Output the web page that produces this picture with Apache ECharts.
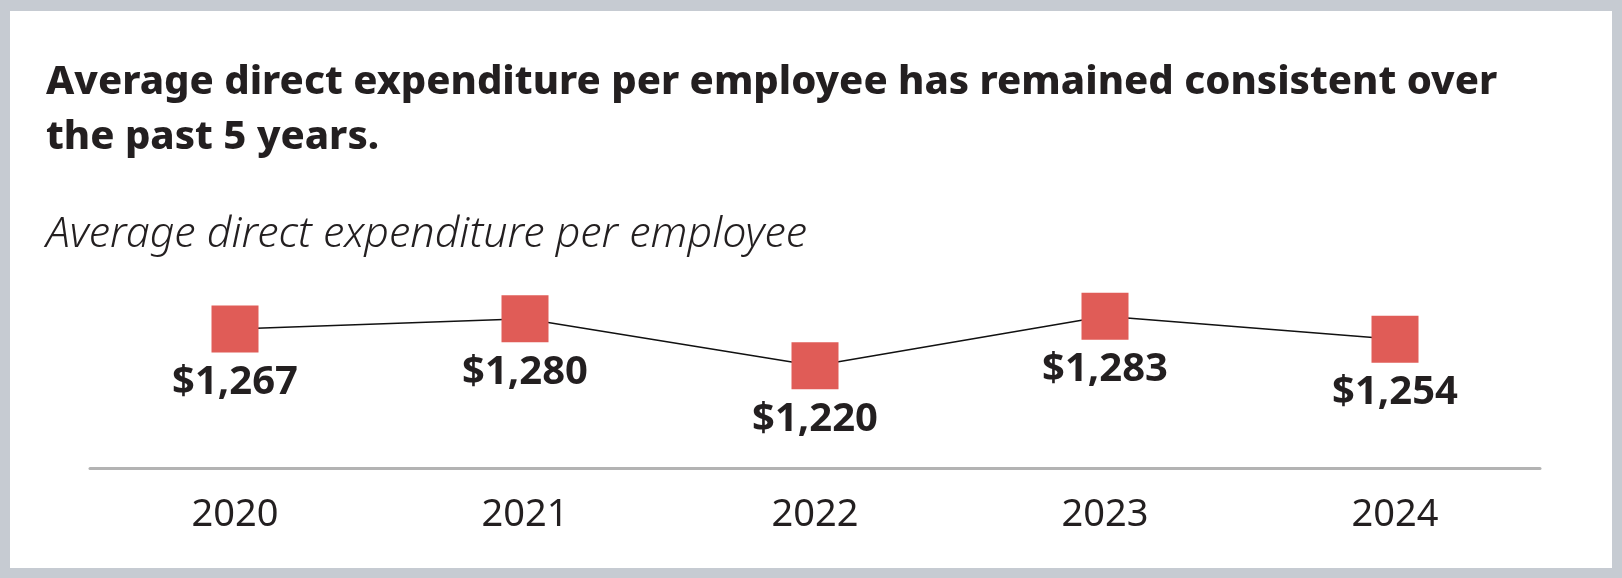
<!DOCTYPE html>
<html>
<head>
<meta charset="utf-8">
<script src="https://cdn.jsdelivr.net/npm/echarts@6/dist/echarts.min.js"></script>
<style>
  html, body { margin: 0; padding: 0; background: #c6cbd2; }
  #chart { width: 1622px; height: 578px; }
</style>
</head>
<body>
<div id="chart"></div>
<script>
const years = ['2020', '2021', '2022', '2023', '2024'];
const expenditure = [1267, 1280, 1220, 1283, 1254];
const titleText = 'Average direct expenditure per employee has remained consistent over\nthe past 5 years.';
const subtitleText = 'Average direct expenditure per employee';

const chart = echarts.init(document.getElementById('chart'), null, { renderer: 'canvas' });
const ink = '#231f20';
chart.setOption({
  backgroundColor: '#c6cbd2',
  animation: false,
  graphic: [{
    type: 'rect', z: -10, silent: true,
    shape: { x: 10, y: 11, width: 1602, height: 557 },
    style: { fill: '#ffffff' }
  }],
  title: [{
    text: titleText, left: 46, top: 55, padding: 0,
    textStyle: { fontFamily: 'Noto Sans', fontSize: 40, fontWeight: 800, lineHeight: 55, color: ink }
  }, {
    text: subtitleText, left: 46, top: 212, padding: 0,
    textStyle: { fontFamily: 'Noto Sans', fontSize: 43, fontStyle: 'italic', fontWeight: 300, lineHeight: 46, color: ink }
  }],
  grid: { left: 90, right: 82, top: 303, bottom: 110 },
  xAxis: {
    type: 'category', data: years, boundaryGap: true,
    axisLine: { lineStyle: { color: '#b3b3b3', width: 3 } },
    axisTick: { show: false },
    axisLabel: { margin: 28, fontFamily: 'Noto Sans', fontSize: 38, color: ink }
  },
  yAxis: { type: 'value', min: 1090, max: 1300, show: false, splitLine: { show: false } },
  series: [{
    type: 'line', data: expenditure,
    symbol: 'rect', symbolSize: 47,
    itemStyle: { color: '#e05c57' },
    lineStyle: { color: '#111111', width: 1.5 },
    label: {
      show: true, position: 'bottom', distance: 10,
      fontFamily: 'Noto Sans', fontSize: 40, fontWeight: 'bold', color: ink,
      formatter: p => '$' + p.value.toLocaleString('en-US')
    }
  }]
});
</script>
</body>
</html>
